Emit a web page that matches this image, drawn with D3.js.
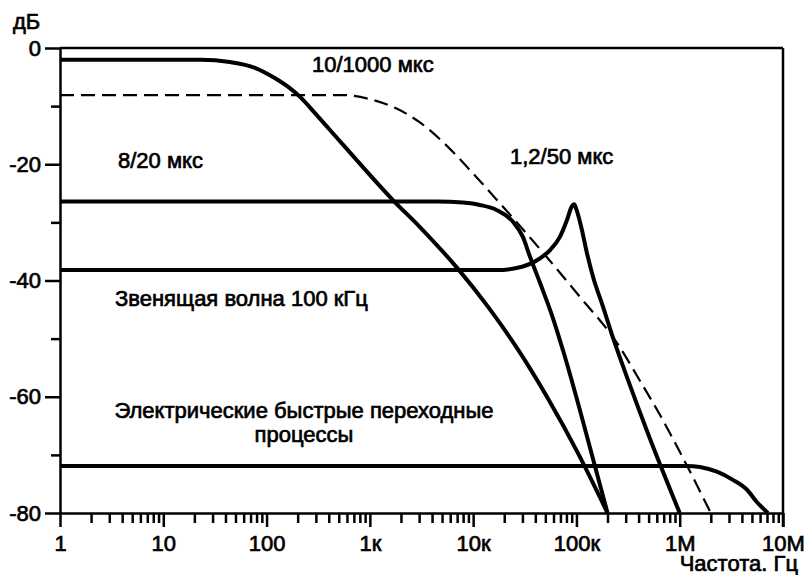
<!DOCTYPE html>
<html>
<head>
<meta charset="utf-8">
<script src="https://cdn.jsdelivr.net/npm/d3@7"></script>
<style>
  body { margin: 0; background: #fff; }
  text { font-family: "Liberation Sans", Arial, sans-serif; font-size: 22px; fill: #000; stroke: #000; stroke-width: 0.7px; }
</style>
</head>
<body>
<svg width="806" height="575"></svg>
<script>
// tick values / labels
var xMajor = [1, 10, 100, 1e3, 1e4, 1e5, 1e6, 1e7];
var xLabels = ["1", "10", "100", "1к", "10к", "100к", "1M", "10M"];
var yMajor = [0, -20, -40, -60, -80];
var yMinor = [-10, -30, -50, -70];

// 10/1000 мкс
var f_10_1000 = [1, 23, 44, 77, 121, 168, 211, 294, 411, 857, 1680, 3050, 7130, 13900, 27200, 53000, 103500, 200000];
var db_10_1000 = [-2, -2, -2.4, -3.4, -5.2, -6.9, -8.4, -11.2, -14.1, -20.5, -26.2, -30.8, -38.0, -44.5, -51.9, -60.3, -69.7, -80];

// 8/20 мкс
var f_8_20 = [1, 4470, 7960, 11600, 17000, 24300, 30300, 35500, 44400, 59300, 74100, 151000, 200000];
var db_8_20 = [-26.4, -26.4, -26.6, -27.0, -27.9, -29.9, -32.5, -35.9, -40.4, -46.5, -52.0, -71.9, -80];

// Звенящая волна 100 кГц
var f_ring = [1, 3820, 17000, 30300, 44400, 55300, 69200, 81000, 90000, 95000, 100500, 113000, 126500, 144500, 180700, 225400, 315500, 512000, 1000000];
var db_ring = [-38.2, -38.2, -38.2, -37.6, -36.2, -34.8, -32.5, -29.6, -27.3, -26.9, -27.9, -31.3, -35.3, -39.3, -44.5, -49.8, -57.1, -67.1, -80];

// 1,2/50 мкс (пунктир)
var f_1_2_50 = [1, 550, 1000, 1750, 3050, 5330, 9310, 17000, 51800, 108000, 247000, 430000, 643000, 1074000, 2000000];
var db_1_2_50 = [-8.1, -8.1, -8.8, -10.3, -12.8, -16.5, -21.0, -26.15, -36.0, -42.8, -50.75, -57.8, -63.1, -70.5, -80];

// Электрические быстрые переходные процессы
var f_eft = [1, 1170000, 1570000, 2290000, 3270000, 4480000, 5580000, 7140000];
var db_eft = [-71.9, -71.9, -72.1, -72.9, -74.3, -76.0, -78.1, -80];

var svg = d3.select("svg");
var mLeft = 60, mRight = 783, mTop = 48, mBottom = 513;

var x = d3.scaleLog().domain([1, 1e7]).range([mLeft, mRight]);
var y = d3.scaleLinear().domain([-80, 0]).range([mBottom, mTop]);

var xMinor = [];
for (var k = 0; k < 7; k++) {
  for (var m = 2; m <= 9; m++) xMinor.push(m * Math.pow(10, k));
}

// minor x ticks
svg.append("g")
  .attr("transform", "translate(0," + mBottom + ")")
  .call(d3.axisBottom(x).tickValues(xMinor).tickSize(10).tickSizeOuter(0).tickFormat(""))
  .call(g => g.select(".domain").remove());

// major x axis
var gx = svg.append("g")
  .attr("transform", "translate(0," + mBottom + ")")
  .call(d3.axisBottom(x).tickValues(xMajor).tickSize(14).tickSizeOuter(0).tickPadding(8)
    .tickFormat(function(d, i) { return xLabels[i]; }));
gx.selectAll("text").attr("font-size", null).attr("font-family", null);

// minor y ticks
svg.append("g")
  .attr("transform", "translate(" + mLeft + ",0)")
  .call(d3.axisLeft(y).tickValues(yMinor).tickSize(9).tickSizeOuter(0).tickFormat(""))
  .call(g => g.select(".domain").remove());

// major y axis (plain hyphen like the original)
var gy = svg.append("g")
  .attr("transform", "translate(" + mLeft + ",0)")
  .call(d3.axisLeft(y).tickValues(yMajor).tickSize(15).tickSizeOuter(0).tickPadding(4)
    .tickFormat(function(d) { return String(d); }));
gy.selectAll("text").attr("font-size", null).attr("font-family", null);

svg.selectAll(".tick line, .domain").attr("stroke", "#000").attr("stroke-width", 2.5);

// frame: top and right
svg.append("line").attr("x1", mLeft).attr("x2", mRight).attr("y1", mTop).attr("y2", mTop)
  .attr("stroke", "#000").attr("stroke-width", 2.5);
svg.append("line").attr("x1", mRight).attr("x2", mRight).attr("y1", mTop).attr("y2", mBottom + 14)
  .attr("stroke", "#000").attr("stroke-width", 2.5);

var line = d3.line()
  .x(function(d) { return x(d[0]); })
  .y(function(d) { return y(d[1]); })
  .curve(d3.curveMonotoneX);

function series(f, db) {
  return f.map(function(v, i) { return [v, db[i]]; });
}

var curves = [
  { data: series(f_1_2_50, db_1_2_50), dash: "14,7", w: 2.2 },
  { data: series(f_10_1000, db_10_1000), dash: null, w: 4 },
  { data: series(f_8_20, db_8_20), dash: null, w: 4 },
  { data: series(f_ring, db_ring), dash: null, w: 4 },
  { data: series(f_eft, db_eft), dash: null, w: 4 }
];

svg.selectAll(".curve")
  .data(curves)
  .enter()
  .append("path")
  .attr("class", "curve")
  .attr("d", function(d) { return line(d.data); })
  .attr("fill", "none")
  .attr("stroke", "#000")
  .attr("stroke-width", function(d) { return d.w; })
  .attr("stroke-dasharray", function(d) { return d.dash; })
  .attr("stroke-linejoin", "round");

// labels
svg.append("text").attr("x", 13).attr("y", 29).text("дБ");
svg.append("text").attr("x", 798).attr("y", 571).attr("text-anchor", "end").text("Частота. Гц");
svg.append("text").attr("x", 312).attr("y", 72).text("10/1000 мкс");
svg.append("text").attr("x", 118).attr("y", 168).text("8/20 мкс");
svg.append("text").attr("x", 510).attr("y", 164).text("1,2/50 мкс");
svg.append("text").attr("x", 115).attr("y", 306).text("Звенящая волна 100 кГц");
svg.append("text").attr("x", 304).attr("y", 418).attr("text-anchor", "middle").text("Электрические быстрые переходные");
svg.append("text").attr("x", 304).attr("y", 442).attr("text-anchor", "middle").text("процессы");
</script>
</body>
</html>
